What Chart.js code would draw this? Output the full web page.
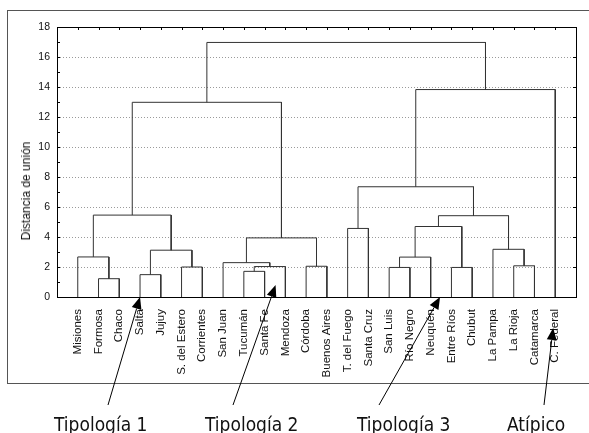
<!DOCTYPE html>
<html>
<head>
<meta charset="utf-8">
<script src="https://cdn.jsdelivr.net/npm/chart.js@4"></script>
<style>
  html, body { margin: 0; padding: 0; background: #fff; }
  #wrap { position: relative; width: 589px; height: 433px; overflow: hidden; }
  #frame {
    position: absolute; left: 7px; top: 10px; width: 620px; height: 372px;
    border-top: 1px solid #555; border-left: 1px solid #555; border-bottom: 1px solid #555;
  }
  canvas { position: absolute; left: 0; top: 0; }
  #ytitle {
    position: absolute; left: 26px; top: 191px;
    transform: translate(-50%, -50%) rotate(-90deg);
    font: 12px "Liberation Sans", Arial, sans-serif; color: #111; white-space: nowrap;
  }
  .tag {
    position: absolute; top: 415px; line-height: 19px;
    font-family: "DejaVu Sans", sans-serif; font-stretch: condensed; font-size: 19px;
    color: #111; white-space: nowrap;
  }
</style>
</head>
<body>
<div id="wrap">
  <div id="frame"></div>
  <canvas id="dendro" width="589" height="433"></canvas>
  <div id="ytitle">Distancia de unión</div>
</div>
<script>
// Provincias en el orden de las hojas del dendrograma
const provincias = [
  "Misiones", "Formosa", "Chaco", "Salta", "Jujuy", "S. del Estero",
  "Corrientes", "San Juan", "Tucumán", "Santa Fe", "Mendoza", "Córdoba",
  "Buenos Aires", "T. del Fuego", "Santa Cruz", "San Luis", "Río Negro",
  "Neuquén", "Entre Ríos", "Chubut", "La Pampa", "La Rioja", "Catamarca",
  "C. Federal",
];

// Uniones: ids 0..23 son hojas, cada unión nueva recibe el id 24, 25, ...
const unionIzq = [1, 8, 3, 15, 18, 5, 25, 11, 21, 7, 27, 0, 26, 20, 33, 13, 34, 40, 35, 39, 42, 43, 44];
const unionDer = [2, 9, 4, 16, 19, 6, 10, 12, 22, 30, 17, 24, 29, 32, 31, 14, 28, 37, 36, 41, 38, 23, 45];
const distancia = [
  1.22, 1.71, 1.49, 1.97, 1.97, 2.0, 2.03, 2.05, 2.08, 2.29, 2.66, 2.67,
  3.12, 3.18, 3.94, 4.57, 4.70, 5.42, 5.46, 7.35, 12.98, 13.83, 16.97,
];

const yTicks = [0, 2, 4, 6, 8, 10, 12, 14, 16, 18];

// Grupos señalados debajo del gráfico
const grupos = ["Tipología 1", "Tipología 2", "Tipología 3", "Atípico"];
const grupoLeft = [54, 205, 357, 507];
const flechaPunta = [[4.0, 0], [10.53, 0.8], [18.45, 0], [23.9, -2.07]];
const flechaCola = [[108, 405], [233, 405], [379, 405], [544, 405]];

// posición x y altura de cada nodo (hojas en 1..24)
const nodoX = provincias.map((_, i) => i + 1);
const nodoY = provincias.map(() => 0);

const datasets = distancia.map((h, i) => {
  const a = unionIzq[i];
  const b = unionDer[i];
  nodoX.push((nodoX[a] + nodoX[b]) / 2);
  nodoY.push(h);
  return {
    data: [
      { x: nodoX[a], y: nodoY[a] },
      { x: nodoX[a], y: h },
      { x: nodoX[b], y: h },
      { x: nodoX[b], y: nodoY[b] },
    ],
    showLine: true,
    borderColor: "#333",
    borderWidth: 1,
    pointRadius: 0,
    tension: 0,
  };
});

grupos.forEach((g, i) => {
  const el = document.createElement("div");
  el.className = "tag";
  el.style.left = grupoLeft[i] + "px";
  el.textContent = g;
  document.getElementById("wrap").appendChild(el);
});

const marco = {
  id: "marco",
  afterDraw(chart) {
    const { ctx, chartArea: a, scales } = chart;
    const x = scales.x;
    const y = scales.y;
    ctx.save();
    ctx.strokeStyle = "#000";
    ctx.lineWidth = 1;
    ctx.strokeRect(Math.round(a.left) + 0.5, Math.round(a.top) + 0.5,
      Math.round(a.right - a.left), Math.round(a.bottom - a.top));

    ctx.beginPath();
    for (let v = 0; v <= 18; v++) {
      const py = Math.round(y.getPixelForValue(v)) + 0.5;
      ctx.moveTo(a.left, py);
      ctx.lineTo(a.left + 3, py);
      if (v % 2 === 0) {
        ctx.moveTo(a.right, py);
        ctx.lineTo(a.right - 3, py);
      }
    }
    nodoX.slice(0, provincias.length).forEach((v) => {
      const px = Math.round(x.getPixelForValue(v)) + 0.5;
      ctx.moveTo(px, a.top);
      ctx.lineTo(px, a.top + 3);
    });
    ctx.stroke();

    // flechas hacia cada grupo
    ctx.fillStyle = "#000";
    flechaPunta.forEach(([vx, vy], i) => {
      const tx = x.getPixelForValue(vx);
      const ty = y.getPixelForValue(vy);
      const [cx, cy] = flechaCola[i];
      const ang = Math.atan2(ty - cy, tx - cx);
      const len = 12;
      const half = 5;
      const bx = tx - len * Math.cos(ang);
      const by = ty - len * Math.sin(ang);
      ctx.beginPath();
      ctx.moveTo(cx, cy);
      ctx.lineTo(bx, by);
      ctx.stroke();
      ctx.beginPath();
      ctx.moveTo(tx, ty);
      ctx.lineTo(bx + half * Math.sin(ang), by - half * Math.cos(ang));
      ctx.lineTo(bx - half * Math.sin(ang), by + half * Math.cos(ang));
      ctx.closePath();
      ctx.fill();
    });
    ctx.restore();
  },
};

new Chart(document.getElementById("dendro"), {
  type: "scatter",
  data: { datasets },
  plugins: [marco],
  options: {
    responsive: false,
    animation: false,
    layout: { padding: { top: 27, right: 13, left: 0, bottom: 0 } },
    plugins: { legend: { display: false }, tooltip: { enabled: false } },
    scales: {
      x: {
        type: "linear",
        min: 0,
        max: provincias.length + 1,
        afterFit: (s) => { s.height = 136; },
        afterBuildTicks: (s) => { s.ticks = nodoX.slice(0, provincias.length).map((v) => ({ value: v })); },
        grid: { display: false, drawTicks: false },
        border: { display: false },
        ticks: {
          autoSkip: false,
          minRotation: 90,
          maxRotation: 90,
          padding: 12,
          color: "#111",
          font: { family: "'Liberation Sans', Arial, sans-serif", size: 11.5 },
          callback: (v) => provincias[v - 1] || "",
        },
      },
      y: {
        min: 0,
        max: 18,
        afterFit: (s) => { s.width = 57; },
        afterBuildTicks: (s) => { s.ticks = yTicks.map((v) => ({ value: v })); },
        grid: {
          drawTicks: false,
          color: (c) => (c.tick && c.tick.value > 0 && c.tick.value < 18 ? "#9a9a9a" : "rgba(0,0,0,0)"),
        },
        border: { display: false, dash: [1, 2] },
        ticks: {
          padding: 7,
          color: "#111",
          font: { family: "'Liberation Sans', Arial, sans-serif", size: 10.5 },
        },
      },
    },
  },
});
</script>
</body>
</html>
